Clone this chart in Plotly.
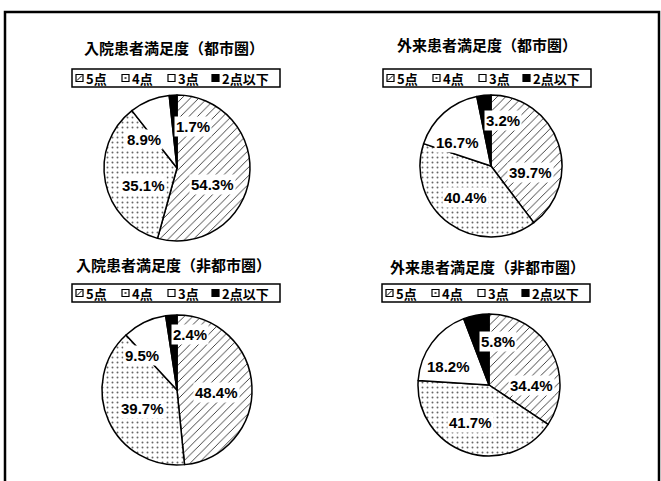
import math
import plotly.graph_objects as go

W, H = 661, 481

# ---------------- data ----------------
categories = ["5点", "4点", "3点", "2点以下"]
titles = [
    "入院患者満足度（都市圏）",
    "外来患者満足度（都市圏）",
    "入院患者満足度（非都市圏）",
    "外来患者満足度（非都市圏）",
]
inpatient_urban = [54.3, 35.1, 8.9, 1.7]
outpatient_urban = [39.7, 40.4, 16.7, 3.2]
inpatient_rural = [48.4, 39.7, 9.5, 2.4]
outpatient_rural = [34.4, 41.7, 18.2, 5.8]
series = [inpatient_urban, outpatient_urban, inpatient_rural, outpatient_rural]

# ---------------- layout (pixels) ----------------
pie_centers = [(177, 168), (491, 166), (177, 390), (489, 385)]
pie_radii = [73, 71, 75, 71]
title_pos = [(174, 47), (487, 45), (173, 264), (487, 266)]
legend_boxes = [(72, 69), (383, 69), (72, 284), (382, 284)]  # top-left corners
legend_w, legend_h = 208, 18
sym_offsets = [4, 50, 96, 140]
sym_size = 7
# per-label nudges (dx, dy in px) from the mid-angle anchor
label_nudges = [
    [(-1, 12), (2, 10), (-19, 5), (18, -5)],
    [(6, 18), (-5, 3), (-10, 3), (16, -10)],
    [(2, 4), (0, 3), (-19, -1), (16, -18)],
    [(11, 17), (-7, 4), (-12, 3), (15, -9)],
]

JP = "Noto Sans CJK JP"
LAT = "Liberation Sans, Arial"


def px(x):
    return x / W


def py(y):
    return 1 - y / H


fig = go.Figure()
annotations = []
shapes = []

for i, vals in enumerate(series):
    cx, cy = pie_centers[i]
    r = pie_radii[i]
    fig.add_trace(go.Pie(
        labels=categories,
        values=vals,
        sort=False,
        direction="clockwise",
        rotation=0,
        textinfo="none",
        hoverinfo="skip",
        showlegend=False,
        domain=dict(x=[px(cx - r), px(cx + r)], y=[py(cy + r), py(cy - r)]),
        marker=dict(
            colors=["white", "white", "white", "black"],
            line=dict(color="black", width=1.5),
            pattern=dict(
                shape=["/", ".", "", ""],
                fgcolor=["#222", "#666", "black", "black"],
                size=[6, 5, 8, 8],
                solidity=[0.14, 0.12, 0.3, 0.3],
            ),
        ),
    ))

    # slice labels
    total = sum(vals)
    cum = 0.0
    for j, v in enumerate(vals):
        mid = (cum + v / 2) / total * 2 * math.pi
        cum += v
        lx = cx + 0.5 * r * math.sin(mid) + label_nudges[i][j][0]
        ly = cy - 0.5 * r * math.cos(mid) + label_nudges[i][j][1]
        annotations.append(dict(
            x=px(lx), y=py(ly), xref="paper", yref="paper",
            text=f"<b>{v:.1f}%</b>", showarrow=False,
            font=dict(family=LAT, size=15, color="black"),
            bgcolor="white", borderpad=1,
            xanchor="center", yanchor="middle",
        ))

    # title
    tx, ty = title_pos[i]
    annotations.append(dict(
        x=px(tx), y=py(ty), xref="paper", yref="paper",
        text=f"<b>{titles[i]}</b>", showarrow=False,
        font=dict(family=JP, size=15, color="black"),
        xanchor="center", yanchor="middle",
    ))

    # legend box
    bx, by = legend_boxes[i]
    shapes.append(dict(
        type="rect", xref="paper", yref="paper",
        x0=px(bx), x1=px(bx + legend_w), y0=py(by + legend_h), y1=py(by),
        line=dict(color="black", width=1.5), fillcolor="white", layer="above",
    ))
    for k, cat in enumerate(categories):
        sx = bx + sym_offsets[k]
        sy = by + (legend_h - sym_size) / 2
        shapes.append(dict(
            type="rect", xref="paper", yref="paper",
            x0=px(sx), x1=px(sx + sym_size), y0=py(sy + sym_size), y1=py(sy),
            line=dict(color="black", width=1.2),
            fillcolor="black" if k == 3 else "white", layer="above",
        ))
        if k == 0:
            shapes.append(dict(
                type="line", xref="paper", yref="paper",
                x0=px(sx + 1), y0=py(sy + sym_size - 1),
                x1=px(sx + sym_size - 1), y1=py(sy + 1),
                line=dict(color="black", width=1), layer="above",
            ))
        elif k == 1:
            shapes.append(dict(
                type="rect", xref="paper", yref="paper",
                x0=px(sx + 2.5), x1=px(sx + 4.5), y0=py(sy + 4.5), y1=py(sy + 2.5),
                line=dict(width=0), fillcolor="#555", layer="above",
            ))
        annotations.append(dict(
            x=px(sx + sym_size + 1), y=py(by + legend_h / 2), xref="paper", yref="paper",
            text=f"<b>{cat}</b>", showarrow=False,
            font=dict(family=JP, size=13, color="black"),
            xanchor="left", yanchor="middle",
        ))

# outer frame (bottom edge runs off the picture)
shapes.append(dict(
    type="rect", xref="paper", yref="paper",
    x0=px(5), x1=px(659), y0=py(495), y1=py(12),
    line=dict(color="black", width=2.5), layer="above",
))

fig.update_layout(
    width=W, height=H,
    margin=dict(l=0, r=0, t=0, b=0),
    paper_bgcolor="white",
    plot_bgcolor="white",
    showlegend=False,
    annotations=annotations,
    shapes=shapes,
)

fig.write_html("out.html")
